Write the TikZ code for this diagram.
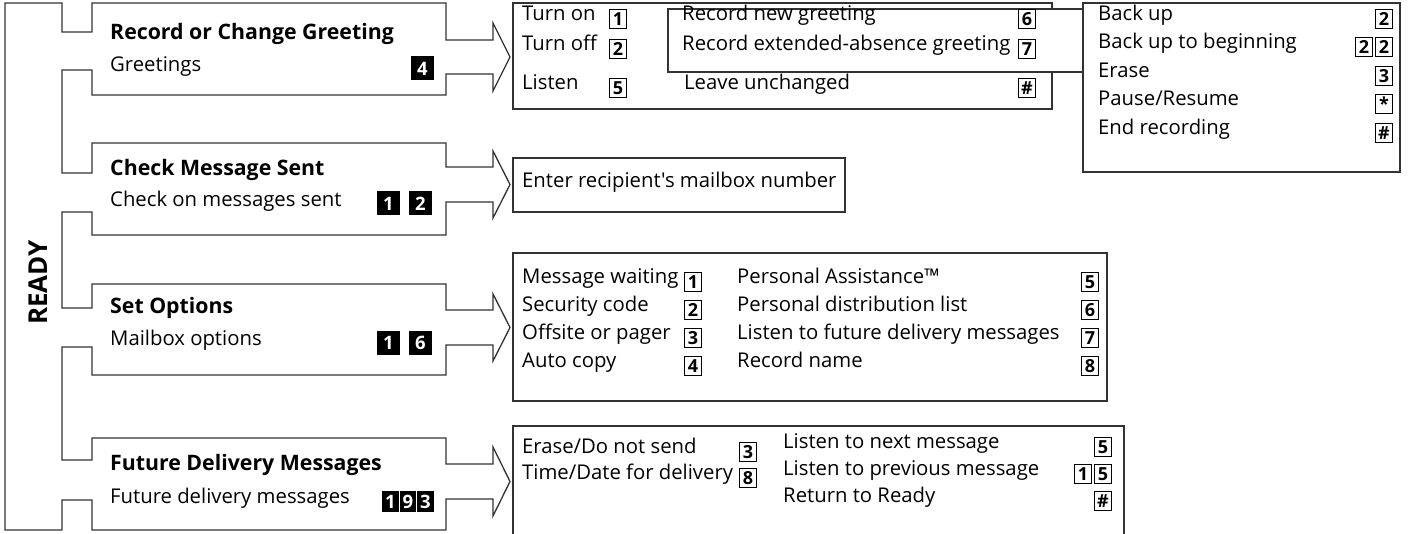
\documentclass[tikz,border=0pt]{standalone}
\usepackage{fontspec}
\setmainfont{Open Sans}[Ligatures=TeXOff]
\tikzset{
  outl/.style={draw=black!80, line width=1.3pt, line join=miter},
  lbox/.style={draw=black!80, line width=1.3pt, fill=white},
  txt/.style={anchor=mid west, inner sep=0pt, font=\fontsize{20.3}{22}\selectfont},
  ttl/.style={anchor=mid west, inner sep=0pt, font=\fontsize{21.3}{23}\selectfont\bfseries},
  key/.style={draw=black, line width=1.3pt, minimum width=17pt, minimum height=19pt, inner sep=0pt, font=\fontsize{18}{18}\selectfont\bfseries},
  bkey/.style={fill=black, text=white, minimum width=23pt, minimum height=24pt, inner sep=0pt, font=\fontsize{18.5}{18.5}\selectfont\bfseries},
  skey/.style={bkey, minimum width=16.5pt, minimum height=21pt},
}
\newcommand{\lowstar}{\raisebox{-0.4ex}{*}}
\begin{document}
\begin{tikzpicture}[x=1pt,y=-1pt]
\useasboundingbox (0,0) rectangle (1411,534);
% outline of READY trunk with the four menu arrows
\draw[outl] (5,3) -- (62,3) -- (62,32) -- (92,32) -- (92,3) -- (446,3) -- (446,40) -- (493,40) -- (493,23) -- (510,57) -- (493,91) -- (493,74) -- (446,74) -- (446,95) -- (92,95) -- (92,70) -- (62,70)
 -- (62,173) -- (92,173) -- (92,143) -- (446,143) -- (446,167) -- (493,167) -- (493,151) -- (510,184.5) -- (493,218) -- (493,202) -- (446,202) -- (446,235) -- (92,235) -- (92,212) -- (62,212)
 -- (62,308) -- (92,308) -- (92,284) -- (446,284) -- (446,310) -- (493,310) -- (493,294) -- (510,327.5) -- (493,361) -- (493,345) -- (446,345) -- (446,375) -- (92,375) -- (92,347) -- (62,347)
 -- (62,460) -- (92,460) -- (92,438) -- (446,438) -- (446,464) -- (493,464) -- (493,447) -- (510,481.5) -- (493,516) -- (493,499) -- (446,499) -- (446,530) -- (92,530) -- (92,500) -- (62,500)
 -- (62,530) -- (5,530) -- cycle;
\node[rotate=90, inner sep=0pt, font=\fontsize{26}{26}\selectfont\bfseries] (ready) at (38.5,282.5) {READY};

% menu boxes
\node[ttl] (t1) at (110,37) {Record or Change Greeting};
\node[txt] (s1) at (110,69) {Greetings};
\node[bkey] (b1) at (422.5,68.5) {4};
\node[ttl] (t2) at (110,173) {Check Message Sent};
\node[txt] (s2) at (110,204) {Check on messages sent};
\node[bkey] (b2a) at (388.5,203.5) {1};
\node[bkey] (b2b) at (420.5,203.5) {2};
\node[ttl] (t3) at (110,311) {Set Options};
\node[txt] (s3) at (110,343) {Mailbox options};
\node[bkey] (b3a) at (388.5,343) {1};
\node[bkey] (b3b) at (420.5,343) {6};
\node[ttl] (t4) at (110,468) {Future Delivery Messages};
\node[txt] (s4) at (110,501) {Future delivery messages};
\node[skey] (b4a) at (390.5,501.5) {1};
\node[skey] (b4b) at (408,501.5) {9};
\node[skey] (b4c) at (425.5,501.5) {3};

% greeting boxes
\draw[lbox] (513,3) rectangle (1052,109);
\draw[lbox] (668,9) rectangle (1083,72);
\draw[lbox] (1083,3) rectangle (1400,172);
\node[txt] (a1) at (522,18) {Turn on};
\node[txt] (a2) at (522,48) {Turn off};
\node[txt] (a3) at (522,87) {Listen};
\node[key] (ka1) at (618,19) {1};
\node[key] (ka2) at (618,49) {2};
\node[key] (ka3) at (618,88) {5};
\node[txt] (a4) at (682,18) {Record new greeting};
\node[txt] (a5) at (682,48) {Record extended-absence greeting};
\node[txt] (a6) at (684,87) {Leave unchanged};
\node[key] (ka4) at (1027,19) {6};
\node[key] (ka5) at (1027,49) {7};
\node[key] (ka6) at (1027,88) {\#};
\node[txt] (c1) at (1098,18) {Back up};
\node[txt] (c2) at (1098,46) {Back up to beginning};
\node[txt] (c3) at (1098,75) {Erase};
\node[txt] (c4) at (1098,103) {Pause/Resume};
\node[txt] (c5) at (1098,132) {End recording};
\node[key] (kc1) at (1384,19) {2};
\node[key] (kc2a) at (1364,47) {2};
\node[key] (kc2b) at (1384,47) {2};
\node[key] (kc3) at (1384,76) {3};
\node[key] (kc4) at (1384,104) {\lowstar};
\node[key] (kc5) at (1384,133) {\#};

% check message box
\draw[lbox] (513,158) rectangle (845,212);
\node[txt] (e1) at (522,185) {Enter recipient's mailbox number};

% options box
\draw[lbox] (513,253) rectangle (1107,401);
\node[txt] (o1) at (522,281) {Message waiting};
\node[txt] (o2) at (522,309) {Security code};
\node[txt] (o3) at (522,337) {Offsite or pager};
\node[txt] (o4) at (522,365) {Auto copy};
\node[key] (ko1) at (693,282) {1};
\node[key] (ko2) at (693,310) {2};
\node[key] (ko3) at (693,338) {3};
\node[key] (ko4) at (693,366) {4};
\node[txt] (o5) at (737,281) {Personal Assistance™};
\node[txt] (o6) at (737,309) {Personal distribution list};
\node[txt] (o7) at (737,337) {Listen to future delivery messages};
\node[txt] (o8) at (737,365) {Record name};
\node[key] (ko5) at (1090,282) {5};
\node[key] (ko6) at (1090,310) {6};
\node[key] (ko7) at (1090,338) {7};
\node[key] (ko8) at (1090,366) {8};

% future delivery box (runs past the bottom edge)
\draw[outl] (513,540) -- (513,426) -- (1124,426) -- (1124,540);
\node[txt] (f1) at (522,451) {Erase/Do not send};
\node[txt] (f2) at (522,477) {Time/Date for delivery};
\node[key] (kf1) at (748,452) {3};
\node[key] (kf2) at (748,478) {8};
\node[txt] (f3) at (783,446) {Listen to next message};
\node[txt] (f4) at (783,473) {Listen to previous message};
\node[txt] (f5) at (783,500) {Return to Ready};
\node[key] (kf3) at (1103,447) {5};
\node[key] (kf4a) at (1083,474) {1};
\node[key] (kf4b) at (1103,474) {5};
\node[key] (kf5) at (1103,501) {\#};
\end{tikzpicture}
\end{document}
